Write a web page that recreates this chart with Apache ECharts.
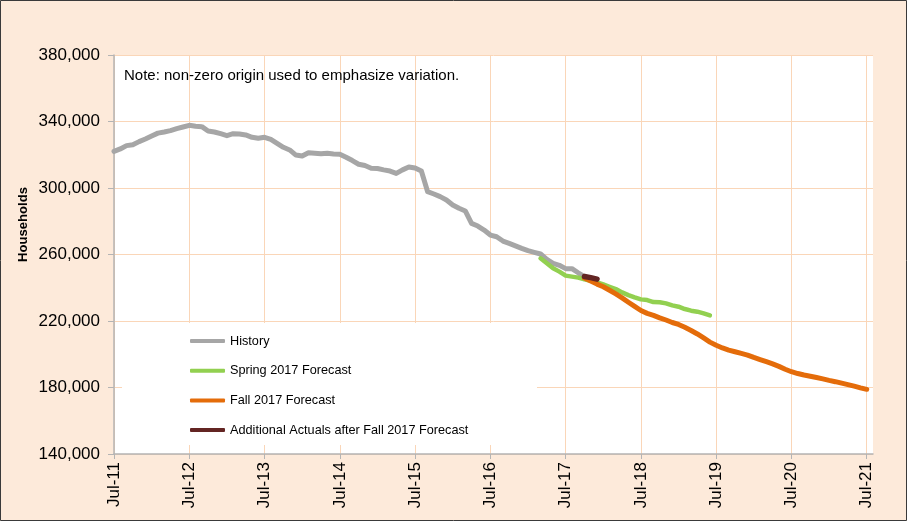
<!DOCTYPE html>
<html><head><meta charset="utf-8">
<script src="https://cdn.jsdelivr.net/npm/echarts@6/dist/echarts.min.js"></script>
<style>html,body{margin:0;padding:0;background:#FDEADA}#c{width:907px;height:521px}</style>
</head><body><div id="c"></div><script>
// ---- categories: monthly, Jul-11 .. Aug-21 (last one only pads the axis) ----
const monthNames = ['Jan','Feb','Mar','Apr','May','Jun','Jul','Aug','Sep','Oct','Nov','Dec'];
const categories = [];
for (let i = 0; i < 122; i++) {
  const m = (6 + i) % 12, y = 11 + Math.floor((6 + i) / 12);
  categories.push(monthNames[m] + '-' + String(y).padStart(2, '0'));
}
// ---- y axis ticks ----
const yMin = 140000, yMax = 380000, yStep = 40000;

// ---- series values ----
const historyStart = 'Jul-11';
const history = [
  322000,323500,325500,326000,327900,329500,331300,333000,333700,334500,335700,336700,
  337700,337100,336900,334300,333700,332700,331500,332700,332500,331900,330500,329900,
  330500,329300,326900,324500,322900,319800,319200,321200,320900,320600,320900,320500,
  320300,318500,316500,314300,313500,311900,311700,310900,310200,308800,310900,312600,
  312000,310200,297800,296400,294800,292800,289800,287800,286200,278700,277100,274700,
  271700,270700,268100,266700,265200,263700,262300,261300,260300,257100,254700,253500,
  251500,251500,249000,246700
];
const springStart = 'Mar-17';
const spring2017 = [
  257700,254700,251700,249700,247300,246700,246100,245100,244200,243300,242000,240600,
  239200,237200,235600,234200,233000,232600,231400,231300,230600,229400,228600,227200,
  226200,225600,224600,223400
];
const fallStart = 'Oct-17';
const fall2017 = [
  245800,244000,242200,240600,238500,236300,233900,231300,228800,226300,224600,223400,
  221900,220600,219100,217900,216200,214300,212200,209800,207300,205400,203800,202500,
  201500,200500,199500,198100,196800,195500,194200,192700,191000,189500,188400,187500,
  186800,186000,185200,184300,183500,182600,181700,180800,179800,178900
];
const actualsStart = 'Oct-17';
const additionalActuals = [246800, 246100, 245200];

function place(startLabel, values) {
  const s = categories.indexOf(startLabel);
  const arr = new Array(categories.length).fill(null);
  values.forEach((v, i) => { arr[s + i] = v; });
  return arr;
}

const FONT = 'Arial, "Liberation Sans", sans-serif';
const GRID = '#FAD6B8';
const chart = echarts.init(document.getElementById('c'), null, {renderer: 'canvas'});
function lineSeries(name, color, width, data) {
  return {
    name, type: 'line', data, symbol: 'none', smooth: false, connectNulls: false,
    lineStyle: {color, width, cap: 'round', join: 'round'},
    itemStyle: {color}, animation: false
  };
}
chart.setOption({
  animation: false,
  backgroundColor: '#FDEADA',
  grid: {left: 114, right: 34, top: 55, bottom: 67, show: true, backgroundColor: '#FFFFFF', borderWidth: 0},
  xAxis: {
    type: 'category', data: categories, boundaryGap: false,
    axisLine: {lineStyle: {color: '#B4B4B4', width: 1.5}},
    axisTick: {show: true, interval: 11, length: 5, lineStyle: {color: '#B4B4B4'}},
    axisLabel: {interval: 11, rotate: 90, margin: 8, fontSize: 17, color: '#000', fontFamily: FONT},
    splitLine: {show: true, interval: 11, lineStyle: {color: GRID, width: 1}}
  },
  yAxis: {
    type: 'value', min: yMin, max: yMax, interval: yStep,
    axisLine: {show: true, lineStyle: {color: '#B4B4B4', width: 1.5}},
    axisTick: {show: true, length: 6, lineStyle: {color: '#B4B4B4'}},
    axisLabel: {margin: 14, fontSize: 17, color: '#000', fontFamily: FONT,
      formatter: v => String(v).replace(/\B(?=(\d{3})+(?!\d))/g, ',')},
    splitLine: {show: true, lineStyle: {color: GRID, width: 1}}
  },
  legend: {
    orient: 'vertical', left: 190, top: 333, padding: 0, itemGap: 13.7,
    itemWidth: 35, itemHeight: 4, icon: 'roundRect', z: 6,
    textStyle: {fontSize: 12.7, color: '#000', fontFamily: FONT, lineHeight: 16},
    data: ['History', 'Spring 2017 Forecast', 'Fall 2017 Forecast', 'Additional Actuals after Fall 2017 Forecast']
  },
  graphic: [
    {type: 'rect', z: 3, silent: true, shape: {x: 122, y: 323, width: 415, height: 122}, style: {fill: '#FFFFFF'}},
    {type: 'text', z: 5, x: 124, y: 76, style: {text: 'Note: non-zero origin used to emphasize variation.', fontSize: 15, fontFamily: FONT, fill: '#000', verticalAlign: 'middle', align: 'left'}},
    {type: 'text', z: 5, x: 23, y: 224.5, rotation: Math.PI / 2, style: {text: 'Households', fontSize: 13.1, fontWeight: 'bold', fontFamily: FONT, fill: '#000', align: 'center', verticalAlign: 'middle'}},
    {type: 'rect', z: 10, silent: true, shape: {x: 0.5, y: 0.5, width: 906, height: 520}, style: {fill: 'none', stroke: '#3A3A3A', lineWidth: 1}}
  ],
  series: [
    lineSeries('History', '#A6A6A6', 5, place(historyStart, history)),
    lineSeries('Spring 2017 Forecast', '#92D050', 4.5, place(springStart, spring2017)),
    lineSeries('Fall 2017 Forecast', '#E46C0A', 5, place(fallStart, fall2017)),
    lineSeries('Additional Actuals after Fall 2017 Forecast', '#632523', 5.5, place(actualsStart, additionalActuals))
  ]
});
</script></body></html>
